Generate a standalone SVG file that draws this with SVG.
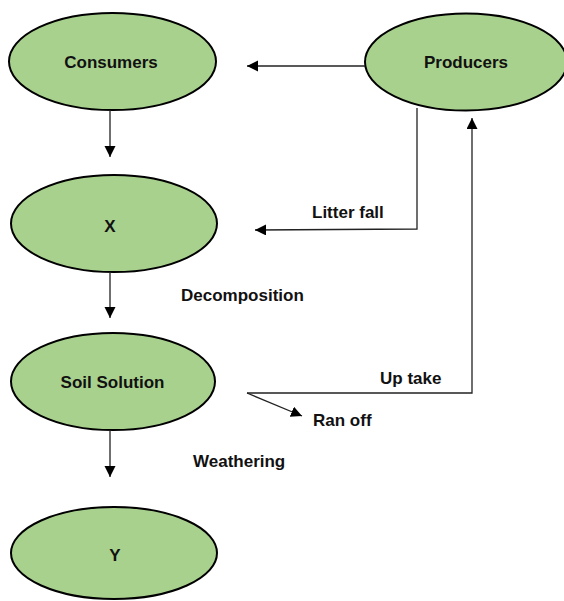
<svg xmlns="http://www.w3.org/2000/svg" width="564" height="601" viewBox="0 0 564 601">
<style>
.node ellipse{fill:#A9D18E;stroke:#000;stroke-width:2}
text{font-family:"Liberation Sans",Arial,sans-serif;font-weight:bold;font-size:17px;fill:#111}
.c{text-anchor:middle}
.edges line,.edges polyline{fill:none;stroke:#222;stroke-width:1.3}
</style>
<defs>
<marker id="ah" markerUnits="userSpaceOnUse" markerWidth="12" markerHeight="12" refX="11" refY="5.5" orient="auto">
<path d="M0,0 L11,5.5 L0,11 z" fill="#000"/>
</marker>
</defs>
<rect width="564" height="601" fill="#fff"/>
<g id="consumers" class="node"><ellipse cx="112.5" cy="61.5" rx="103.5" ry="48.5"/><text class="c" x="111" y="68">Consumers</text></g>
<g id="producers" class="node"><ellipse cx="466" cy="62" rx="101" ry="48.5"/><text class="c" x="466" y="68">Producers</text></g>
<g id="x" class="node"><ellipse cx="114" cy="223.5" rx="103" ry="48.5"/><text class="c" x="110" y="232">X</text></g>
<g id="soil" class="node"><ellipse cx="113" cy="381.5" rx="102" ry="48.5"/><text class="c" x="112.5" y="388">Soil Solution</text></g>
<g id="y" class="node"><ellipse cx="114" cy="553" rx="103" ry="46"/><text class="c" x="115" y="561">Y</text></g>
<g class="edges">
<line x1="365" y1="66" x2="247" y2="66" marker-end="url(#ah)"/>
<line x1="110" y1="110" x2="110" y2="157" marker-end="url(#ah)"/>
<polyline points="417,108 417,229 255,230" marker-end="url(#ah)"/>
<line x1="110" y1="272" x2="110" y2="318" marker-end="url(#ah)"/>
<line x1="110" y1="430" x2="110" y2="477" marker-end="url(#ah)"/>
<polyline points="247,393 472,393 472,118" marker-end="url(#ah)"/>
<line x1="247" y1="393" x2="302" y2="416" marker-end="url(#ah)"/>
</g>
<g id="labels">
<text x="312" y="218">Litter fall</text>
<text x="181" y="301">Decomposition</text>
<text x="380" y="384">Up take</text>
<text x="313" y="426">Ran off</text>
<text x="193" y="467">Weathering</text>
</g>
</svg>
